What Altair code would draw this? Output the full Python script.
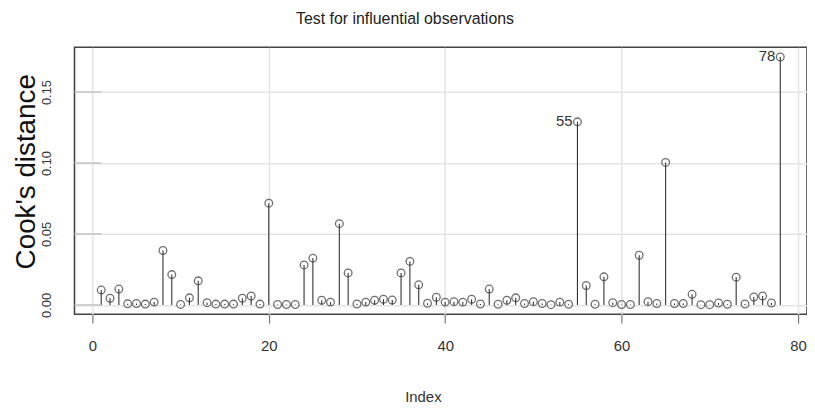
import altair as alt
import pandas as pd

cooks = [
    0.0105, 0.0047, 0.0112, 0.0008, 0.0010, 0.0006, 0.0020, 0.0384, 0.0214, 0.0004,
    0.0050, 0.0170, 0.0016, 0.0006, 0.0006, 0.0006, 0.0047, 0.0063, 0.0006, 0.0717,
    0.0003, 0.0003, 0.0003, 0.0282, 0.0330, 0.0033, 0.0020, 0.0573, 0.0226, 0.0007,
    0.0020, 0.0033, 0.0040, 0.0035, 0.0226, 0.0307, 0.0142, 0.0012, 0.0054, 0.0020,
    0.0023, 0.0020, 0.0040, 0.0007, 0.0112, 0.0005, 0.0033, 0.0050, 0.0010, 0.0023,
    0.0010, 0.0002, 0.0020, 0.0005, 0.1290, 0.0137, 0.0005, 0.0198, 0.0016, 0.0003,
    0.0003, 0.0350, 0.0023, 0.0010, 0.1004, 0.0010, 0.0010, 0.0075, 0.0002, 0.0002,
    0.0014, 0.0005, 0.0196, 0.0007, 0.0056, 0.0063, 0.0014, 0.1747,
]
index = list(range(1, len(cooks) + 1))
labelled = [55, 78]
x_ticks = [0, 20, 40, 60, 80]
y_ticks = [0.0, 0.05, 0.10, 0.15]

df = pd.DataFrame({"Index": index, "cooks": cooks})
df["zero"] = 0.0
df["label"] = [str(i) if i in labelled else "" for i in index]
ticks_df = pd.DataFrame({"yt": y_ticks})

FONT = "Liberation Sans"
INK = "#333333"

xs = alt.Scale(domain=[-2.03, 81.03], nice=False, zero=False)
ys = alt.Scale(domain=[-0.0065, 0.1816], nice=False, zero=False)

x_axis = alt.Axis(
    values=x_ticks, title="Index", grid=True, gridColor="#e4e4e4", gridWidth=1.5,
    domain=False, ticks=True, tickSize=9, tickColor="#777777", tickWidth=1.2,
    labelFontSize=15, labelFont=FONT, labelColor=INK, labelPadding=16,
    titleFont=FONT, titleFontSize=15, titleFontWeight="normal", titleColor=INK,
    titleX=351, titleY=83, titleBaseline="middle", titleAnchor="start", titleAlign="center",
)
y_axis = alt.Axis(
    values=y_ticks, title="Cook's distance", format=".2f", grid=True,
    gridColor="#e4e4e4", gridWidth=1.5, domain=False, ticks=False, tickSize=0,
    labelAngle=270, labelAlign="center", labelBaseline="bottom", labelPadding=21,
    labelFontSize=13, labelFont=FONT, labelColor=INK,
    titleFont=FONT, titleFontSize=28, titleFontWeight="normal", titleColor="#111111",
    titleX=-48, titleY=125, titleAngle=270, titleAlign="center", titleBaseline="middle",
)

base = alt.Chart(df)

stems = base.mark_rule(color=INK, strokeWidth=1.1).encode(
    x=alt.X("Index:Q", scale=xs, axis=x_axis),
    y=alt.Y("zero:Q", scale=ys, axis=y_axis),
    y2="cooks:Q",
)

inner_ticks = alt.Chart(ticks_df).mark_rule(color="#c4c4c4", strokeWidth=1.5).encode(
    y=alt.Y("yt:Q", scale=ys, axis=y_axis),
    x=alt.value(0),
    x2=alt.value(27),
)

points = base.mark_point(
    shape="circle", filled=False, color=INK, size=60, strokeWidth=1.3
).encode(
    x=alt.X("Index:Q", scale=xs, axis=x_axis),
    y=alt.Y("cooks:Q", scale=ys, axis=y_axis),
)

labels = base.transform_filter("datum.label != ''").mark_text(
    align="right", baseline="middle", dx=-5, dy=-1, fontSize=15, font=FONT, color=INK
).encode(
    x=alt.X("Index:Q", scale=xs, axis=x_axis),
    y=alt.Y("cooks:Q", scale=ys, axis=y_axis),
    text="label:N",
)

chart = (
    alt.layer(stems, inner_ticks, points, labels)
    .properties(
        width=738,
        height=269,
        autosize=alt.AutoSizeParams(type="none"),
        padding={"left": 67, "top": 38, "right": 0, "bottom": 89},
        background="white",
        title=alt.TitleParams(
            "Test for influential observations", anchor="middle", dx=-36,
            offset=4, fontSize=16, font=FONT, fontWeight="normal", color="#222222",
            baseline="bottom",
        ),
    )
    .configure_view(stroke="#444444", strokeWidth=1.6)
)

chart.save("out.html", embed_options={"renderer": "svg", "actions": False})
